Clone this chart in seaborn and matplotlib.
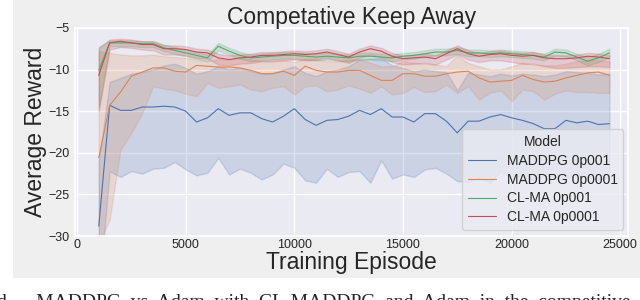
import matplotlib
matplotlib.use("Agg")
import matplotlib.pyplot as plt
import matplotlib.patches as mpatches
import seaborn as sns
import pandas as pd

episodes = list(range(1000, 25000, 500))
models = ["MADDPG 0p001", "MADDPG 0p0001", "CL-MA 0p001", "CL-MA 0p0001"]

maddpg_001_mean = [-28.8, -14.3, -14.9, -14.9, -14.5, -14.5, -14.4, -14.5, -15.0, -16.3,
                   -15.8, -14.7, -15.5, -15.2, -15.2, -15.9, -16.3, -15.6, -14.7, -16.0,
                   -16.7, -16.1, -16.0, -15.6, -14.9, -15.4, -14.7, -15.7, -15.7, -16.3,
                   -15.3, -15.3, -16.2, -17.6, -16.2, -16.2, -15.7, -15.4, -15.8, -16.1,
                   -16.5, -17.1, -17.1, -16.1, -16.4, -16.2, -16.6, -16.5]
maddpg_001_low = [-37.0, -22.2, -22.9, -22.2, -22.5, -21.9, -21.8, -21.1, -22.0, -22.7,
                  -22.4, -20.6, -22.6, -21.9, -22.4, -23.2, -22.6, -21.3, -21.8, -23.3,
                  -23.6, -21.9, -22.9, -22.3, -22.2, -23.6, -20.9, -23.1, -22.6, -22.9,
                  -22.0, -21.8, -22.5, -23.4, -23.5, -23.0, -23.6, -22.2, -23.0, -22.7,
                  -23.3, -22.6, -22.9, -23.1, -22.5, -22.9, -23.2, -22.8]
maddpg_001_high = [-21.0, -11.5, -11.0, -10.5, -10.3, -10.0, -9.5, -9.3, -9.8, -10.5,
                   -10.2, -9.6, -10.0, -9.8, -10.2, -10.5, -10.4, -10.0, -9.6, -10.4,
                   -10.8, -10.2, -10.0, -9.6, -8.8, -8.7, -8.6, -9.5, -9.8, -10.2,
                   -10.0, -10.2, -10.3, -12.5, -10.4, -10.6, -10.8, -10.5, -10.7, -10.5,
                   -10.6, -10.8, -10.6, -10.2, -10.3, -10.4, -10.6, -10.5]

maddpg_0001_mean = [-20.6, -14.3, -12.7, -10.8, -10.3, -9.8, -9.8, -10.2, -10.3, -9.5,
                    -9.6, -9.7, -9.7, -9.8, -10.1, -10.5, -10.5, -10.2, -10.7, -9.6,
                    -10.1, -10.3, -10.3, -10.1, -10.1, -10.7, -11.3, -11.3, -10.5, -10.5,
                    -10.8, -10.8, -10.5, -10.3, -10.2, -11.0, -11.5, -11.4, -11.3, -10.7,
                    -11.2, -11.5, -11.4, -11.0, -10.7, -10.4, -10.3, -10.7]
maddpg_0001_low = [-31.0, -28.0, -19.6, -17.6, -15.2, -12.0, -12.3, -12.5, -12.9, -13.2,
                   -11.6, -12.2, -12.0, -11.8, -12.4, -12.6, -12.2, -12.0, -13.0, -12.0,
                   -11.9, -12.6, -12.4, -11.9, -12.3, -12.8, -12.0, -13.0, -12.8, -12.1,
                   -12.7, -12.6, -11.8, -12.8, -12.0, -13.6, -12.8, -12.5, -13.8, -12.4,
                   -12.6, -13.6, -12.9, -12.5, -12.7, -12.7, -12.8, -12.8]
maddpg_0001_high = [-7.8, -8.0, -8.2, -8.3, -8.3, -8.2, -8.4, -8.5, -8.6, -8.8,
                    -9.0, -8.7, -8.8, -8.6, -8.8, -9.0, -9.0, -8.9, -9.1, -8.7,
                    -8.8, -9.0, -9.0, -8.8, -8.8, -9.2, -9.6, -9.6, -9.0, -9.2,
                    -9.3, -9.4, -9.6, -8.3, -9.2, -9.6, -10.0, -10.0, -9.6, -9.2,
                    -9.4, -9.5, -9.5, -9.3, -9.0, -8.9, -8.9, -9.0]

clma_001_mean = [-10.1, -6.8, -6.8, -6.8, -6.9, -6.9, -7.4, -7.7, -8.0, -8.3,
                 -8.6, -7.2, -7.8, -8.3, -8.6, -8.5, -8.4, -8.3, -8.3, -8.4,
                 -8.5, -8.4, -8.5, -8.6, -8.4, -8.4, -8.5, -8.6, -8.4, -8.3,
                 -8.1, -7.9, -7.9, -7.7, -8.0, -8.0, -8.1, -8.0, -8.1, -8.2,
                 -8.3, -8.5, -7.9, -8.0, -8.5, -9.0, -8.6, -8.0]
clma_001_low = [-14.5, -7.2, -7.2, -7.2, -7.3, -7.3, -7.8, -8.1, -8.4, -8.7,
                -9.0, -7.7, -8.2, -8.7, -9.0, -8.9, -8.8, -8.7, -8.7, -8.8,
                -8.9, -8.8, -8.9, -9.0, -8.8, -8.8, -8.9, -9.0, -8.8, -8.7,
                -8.5, -8.3, -8.3, -8.1, -8.4, -8.4, -8.5, -8.4, -8.5, -8.6,
                -8.7, -8.9, -8.3, -8.4, -8.9, -9.5, -9.1, -8.5]
clma_001_high = [-7.3, -6.5, -6.5, -6.5, -6.6, -6.6, -7.0, -7.3, -7.6, -7.9,
                 -8.2, -6.8, -7.4, -7.9, -8.2, -8.1, -8.0, -7.9, -7.9, -8.0,
                 -8.1, -8.0, -8.1, -8.2, -8.0, -8.0, -8.1, -8.2, -8.0, -7.9,
                 -7.7, -7.5, -7.5, -7.3, -7.6, -7.6, -7.7, -7.6, -7.7, -7.8,
                 -7.9, -8.1, -7.5, -7.6, -8.1, -8.5, -8.1, -7.5]

clma_0001_mean = [-10.7, -6.8, -6.6, -6.8, -7.0, -7.0, -7.5, -7.5, -7.6, -7.9,
                  -8.0, -8.6, -8.8, -8.6, -8.5, -8.3, -8.3, -8.2, -8.1, -8.2,
                  -8.1, -7.9, -8.2, -8.5, -7.9, -7.5, -7.8, -8.4, -8.7, -8.6,
                  -8.5, -8.7, -8.1, -7.5, -8.1, -8.4, -8.2, -8.1, -8.3, -8.4,
                  -8.3, -8.6, -8.7, -8.7, -8.6, -8.4, -8.5, -8.7]
clma_0001_low = [-15.0, -7.6, -7.3, -7.4, -7.6, -7.7, -8.2, -8.2, -8.3, -8.6,
                 -8.7, -9.4, -9.5, -9.3, -9.2, -9.0, -9.0, -8.9, -8.8, -8.9,
                 -8.8, -8.6, -8.9, -9.2, -8.6, -8.2, -8.5, -9.1, -9.4, -9.3,
                 -9.2, -9.4, -8.8, -8.2, -8.8, -9.1, -8.9, -8.9, -9.1, -9.3,
                 -9.3, -9.6, -9.8, -9.8, -9.7, -9.6, -9.6, -9.7]
clma_0001_high = [-7.4, -6.4, -6.3, -6.4, -6.6, -6.6, -7.1, -7.1, -7.2, -7.5,
                  -7.6, -8.1, -8.3, -8.2, -8.1, -7.9, -7.9, -7.8, -7.7, -7.8,
                  -7.7, -7.5, -7.8, -8.1, -7.5, -7.1, -7.4, -8.0, -8.3, -8.2,
                  -8.1, -8.3, -7.7, -7.1, -7.7, -8.0, -7.8, -7.7, -7.9, -8.0,
                  -7.9, -8.2, -8.3, -8.3, -8.2, -8.0, -8.1, -8.3]

series = {
    models[0]: (maddpg_001_low, maddpg_001_mean, maddpg_001_high),
    models[1]: (maddpg_0001_low, maddpg_0001_mean, maddpg_0001_high),
    models[2]: (clma_001_low, clma_001_mean, clma_001_high),
    models[3]: (clma_0001_low, clma_0001_mean, clma_0001_high),
}

rows = []
for name, arrs in series.items():
    for arr in arrs:
        for ep, v in zip(episodes, arr):
            rows.append({"Episode": ep, "Model": name, "Reward": v})
df = pd.DataFrame(rows)

sns.set_theme(style="darkgrid")
plt.rcParams["font.family"] = ["Liberation Sans", "DejaVu Sans"]

fig = plt.figure(figsize=(6.4, 3.0), dpi=100, facecolor="white")
fig.patches.append(mpatches.Rectangle((13 / 640, 22 / 300), 1, 1, transform=fig.transFigure,
                                      facecolor="#efefef", edgecolor="none", zorder=-10))
ax = fig.add_axes([0.117, 0.213, 0.864, 0.694])

# median of (low, mean, high) = mean line, 100% interval = band
sns.lineplot(data=df, x="Episode", y="Reward", hue="Model", hue_order=models,
             estimator="median", errorbar=("pi", 100), linewidth=0.8, ax=ax)

ax.set_xlim(-100, 25350)
ax.set_ylim(-30, -5)
ax.set_xticks([0, 5000, 10000, 15000, 20000, 25000])
ax.set_yticks([-30, -25, -20, -15, -10, -5])
ax.tick_params(labelsize=9, length=0)
ax.tick_params(axis="x", pad=2)
ax.tick_params(axis="y", pad=4)
ax.set_title("Competative Keep Away", fontsize=16.5, pad=3)
ax.set_xlabel("Training Episode", fontsize=16.5, labelpad=0)
ax.set_ylabel("Average Reward", fontsize=16.5, labelpad=1)

sns.move_legend(ax, "lower right", bbox_to_anchor=(0.992, 0.03), title="Model",
                fontsize=10, title_fontsize=10, labelspacing=0.35, borderaxespad=0)

fig.text(-0.004, -0.024,
         "d      MADDPG  vs  Adam  with  CL-MADDPG  and  Adam  in  the  competitive  keep  away  task, both",
         fontsize=14, family=["Liberation Serif", "DejaVu Serif"], va="baseline", ha="left")

fig.savefig("out.png", dpi=100, facecolor=fig.get_facecolor())
